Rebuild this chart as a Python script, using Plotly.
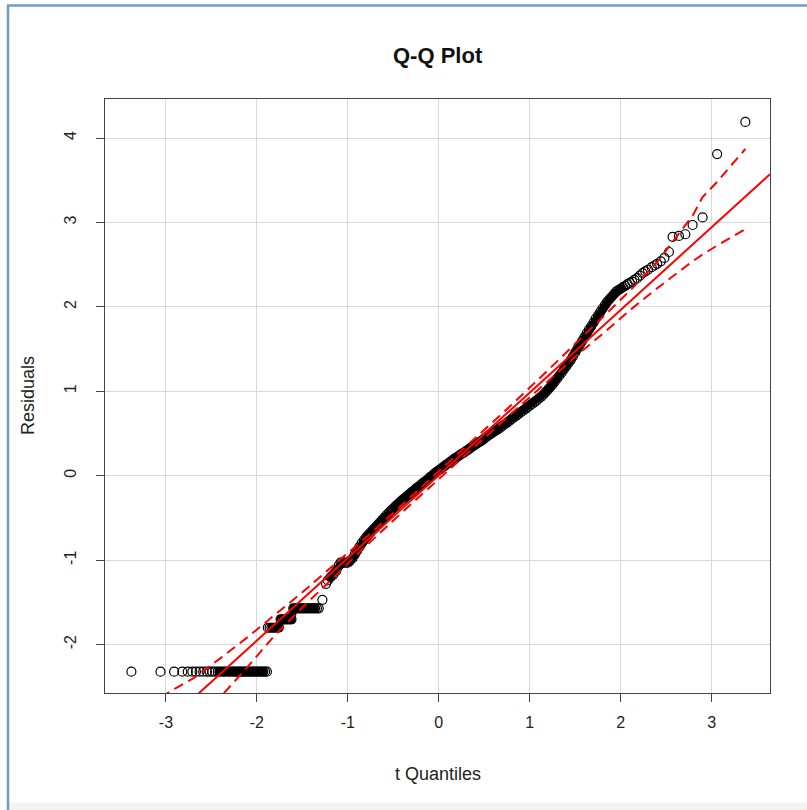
import plotly.graph_objects as go

# ---------------- data ----------------
# theoretical t quantiles (x) and sorted residuals (y)
resid_x = [
    -3.38, -3.06, -2.91, -2.82, -2.76, -2.71, -2.67, -2.63, -2.59, -2.55,
    -2.52, -2.49, -2.46, -2.43, -2.40, -2.37, -2.35, -2.32, -2.30, -2.27,
    -2.25, -2.23, -2.21, -2.19, -2.17, -2.15, -2.13, -2.11, -2.09, -2.07,
    -2.05, -2.03, -2.01, -1.99, -1.97, -1.95, -1.93, -1.91, -1.89,
    -1.88, -1.86, -1.84, -1.82, -1.80, -1.78, -1.76,
    -1.74, -1.72, -1.70, -1.68, -1.66, -1.64, -1.62,
    -1.60, -1.58, -1.56, -1.54, -1.52, -1.50, -1.48, -1.46, -1.44, -1.42,
    -1.40, -1.38, -1.36, -1.34, -1.32,
    -1.28, -1.24, -1.22, -1.19, -1.16, -1.13, -1.10, -1.08, -1.06, -1.04,
    -1.02, -1.00, -0.98,
    -0.950, -0.925, -0.900, -0.875, -0.850, -0.825, -0.800, -0.775,
    -0.750, -0.725, -0.700, -0.675, -0.650, -0.625, -0.600, -0.575,
    -0.550, -0.525, -0.500, -0.475, -0.450, -0.425, -0.400, -0.375,
    -0.350, -0.325, -0.300, -0.275, -0.250, -0.225, -0.200, -0.175,
    -0.150, -0.125, -0.100, -0.075, -0.050, -0.025, 0.000, 0.025,
    0.050, 0.075, 0.100, 0.125, 0.150, 0.175, 0.200, 0.225,
    0.250, 0.275, 0.300, 0.325, 0.350, 0.375, 0.400, 0.425,
    0.450, 0.475, 0.500, 0.525, 0.550, 0.575, 0.600, 0.625,
    0.650, 0.675, 0.700, 0.725, 0.750, 0.775, 0.800, 0.825,
    0.850, 0.875, 0.900, 0.925, 0.950, 0.975, 1.000, 1.025,
    1.050, 1.075, 1.100, 1.125, 1.150, 1.175, 1.200, 1.225,
    1.250, 1.275, 1.300, 1.325, 1.350, 1.375, 1.400, 1.425,
    1.450, 1.475, 1.500, 1.525, 1.550, 1.575, 1.600, 1.625,
    1.650, 1.675, 1.700, 1.725, 1.750, 1.775, 1.800, 1.825,
    1.850, 1.875, 1.900, 1.925, 1.950, 1.975, 2.000, 2.025,
    2.050, 2.075, 2.100, 2.125,
    2.15, 2.18, 2.21, 2.24, 2.27, 2.30, 2.34, 2.37, 2.40, 2.44,
    2.48, 2.53, 2.57, 2.64, 2.71, 2.79, 2.90, 3.06, 3.37,
]
resid_y = [
    -2.32, -2.32, -2.32, -2.32, -2.32, -2.32, -2.32, -2.32, -2.32, -2.32,
    -2.32, -2.32, -2.32, -2.32, -2.32, -2.32, -2.32, -2.32, -2.32, -2.32,
    -2.32, -2.32, -2.32, -2.32, -2.32, -2.32, -2.32, -2.32, -2.32, -2.32,
    -2.32, -2.32, -2.32, -2.32, -2.32, -2.32, -2.32, -2.32, -2.32,
    -1.80, -1.80, -1.80, -1.80, -1.80, -1.80, -1.80,
    -1.70, -1.70, -1.70, -1.70, -1.70, -1.70, -1.70,
    -1.57, -1.57, -1.57, -1.57, -1.57, -1.57, -1.57, -1.57, -1.57, -1.57,
    -1.57, -1.57, -1.57, -1.57, -1.57,
    -1.47, -1.28, -1.24, -1.20, -1.17, -1.13, -1.06, -1.03, -1.03, -1.03,
    -1.03, -1.03, -1.01,
    -0.98, -0.935, -0.89, -0.845, -0.80, -0.765, -0.73, -0.70,
    -0.67, -0.64, -0.615, -0.585, -0.555, -0.525, -0.495, -0.465,
    -0.44, -0.41, -0.385, -0.36, -0.335, -0.31, -0.285, -0.265,
    -0.24, -0.22, -0.195, -0.175, -0.15, -0.13, -0.11, -0.085,
    -0.065, -0.045, -0.02, 0.00, 0.025, 0.045, 0.065, 0.085,
    0.105, 0.125, 0.145, 0.165, 0.185, 0.205, 0.22, 0.24,
    0.26, 0.275, 0.295, 0.31, 0.33, 0.35, 0.365, 0.385,
    0.40, 0.42, 0.44, 0.46, 0.48, 0.50, 0.515, 0.535,
    0.55, 0.57, 0.59, 0.61, 0.63, 0.65, 0.67, 0.69,
    0.71, 0.73, 0.75, 0.77, 0.79, 0.81, 0.83, 0.85,
    0.87, 0.89, 0.915, 0.935, 0.96, 0.99, 1.02, 1.05,
    1.08, 1.115, 1.15, 1.185, 1.22, 1.26, 1.295, 1.335,
    1.37, 1.415, 1.46, 1.505, 1.55, 1.595, 1.64, 1.685,
    1.73, 1.77, 1.815, 1.86, 1.90, 1.94, 1.98, 2.02,
    2.06, 2.09, 2.12, 2.15, 2.18, 2.20, 2.215, 2.235,
    2.25, 2.27, 2.285, 2.30,
    2.32, 2.34, 2.37, 2.40, 2.42, 2.44, 2.47, 2.49, 2.51, 2.54,
    2.58, 2.65, 2.83, 2.84, 2.86, 2.97, 3.06, 3.81, 4.19,
]

# reference line (intercept / slope)
line_intercept = 0.007
line_slope = 0.979

# pointwise confidence envelope
env_x = [-3.37, -3.05, -2.90, -2.70, -2.40, -2.10, -1.80, -1.50, -1.20, -0.80,
         -0.40, 0.00, 0.40, 0.80, 1.20, 1.50, 1.80, 2.10, 2.40, 2.64,
         2.79, 2.90, 3.05, 3.37]
env_upper = [-2.80, -2.62, -2.52, -2.40, -2.16, -1.91, -1.645, -1.38, -1.10, -0.73,
             -0.34, 0.05, 0.44, 0.84, 1.25, 1.56, 1.88, 2.19, 2.53, 2.86,
             3.08, 3.30, 3.47, 3.87]
env_lower = [-3.89, -3.46, -3.25, -2.99, -2.62, -2.26, -1.885, -1.56, -1.25, -0.83,
             -0.43, -0.04, 0.355, 0.74, 1.12, 1.41, 1.68, 1.96, 2.22, 2.42,
             2.54, 2.62, 2.72, 2.92]

x_ticks = [-3, -2, -1, 0, 1, 2, 3]
y_ticks = [-2, -1, 0, 1, 2, 3, 4]

title_text = "Q-Q Plot"
x_title = "t Quantiles"
y_title = "Residuals"

# ---------------- layout geometry ----------------
W, H = 807, 810
L, R, T, B = 105, 37, 99, 116.5
PW, PH = W - L - R, H - T - B
x_range = [-3.67, 3.641]
y_range = [-2.573, 4.462]

RED = "#ff0000"
FONT = "Liberation Sans, Arial, sans-serif"
TXT = "#222222"


def px_x(p):
    return (p - L) / PW


def px_y(p):
    return (H - B - p) / PH


fig = go.Figure()

# where the circles overlap heavily the R plot shows a solid black band:
# draw a thick black stroke through those runs of points under the circles
dense_runs = [(-2.47, -1.885), (-1.885, -1.31), (-1.23, 2.06)]
for lo, hi in dense_runs:
    sx = [x for x, y in zip(resid_x, resid_y) if lo <= x <= hi]
    sy = [y for x, y in zip(resid_x, resid_y) if lo <= x <= hi]
    fig.add_trace(go.Scatter(
        x=sx, y=sy, mode="lines",
        line=dict(color="black", width=8),
        showlegend=False, hoverinfo="skip",
    ))

fig.add_trace(go.Scatter(
    x=resid_x, y=resid_y, mode="markers",
    marker=dict(symbol="circle-open", size=9, color="black",
                line=dict(width=1.2, color="black")),
    showlegend=False, hoverinfo="skip",
))

line_x = [x_range[0], x_range[1]]
line_y = [line_intercept + line_slope * v for v in line_x]
fig.add_trace(go.Scatter(
    x=line_x, y=line_y, mode="lines",
    line=dict(color=RED, width=2), showlegend=False, hoverinfo="skip",
))
for env in (env_upper, env_lower):
    fig.add_trace(go.Scatter(
        x=env_x, y=env, mode="lines",
        line=dict(color=RED, width=2, dash="10px,6px"),
        showlegend=False, hoverinfo="skip",
    ))

axis_common = dict(
    showgrid=True, gridcolor="#d9d9d9", gridwidth=1,
    zeroline=False, showline=True, linecolor="#444444", linewidth=1,
    mirror=True, ticks="outside", ticklen=8, tickcolor="#444444",
    tickfont=dict(family=FONT, size=16, color=TXT),
)

fig.update_xaxes(range=x_range, tickvals=x_ticks, ticktext=[str(v) for v in x_ticks],
                 ticklabelstandoff=7, **axis_common)
fig.update_yaxes(range=y_range, tickvals=y_ticks, ticktext=[str(v) for v in y_ticks],
                 tickangle=-90, ticklabelstandoff=14, **axis_common)

annotations = [
    dict(text="<b>" + title_text + "</b>", x=0.5, y=1, xref="paper", yref="paper",
         yanchor="middle", xanchor="center", yshift=44, showarrow=False,
         font=dict(family=FONT, size=22, color="#111111")),
    dict(text=x_title, x=0.5, y=0, xref="paper", yref="paper",
         yanchor="middle", xanchor="center", yshift=-81, showarrow=False,
         font=dict(family=FONT, size=18, color=TXT)),
    dict(text=y_title, x=0, y=0.5, xref="paper", yref="paper",
         yanchor="middle", xanchor="center", xshift=-77, textangle=-90,
         showarrow=False, font=dict(family=FONT, size=18, color=TXT)),
]

frame_blue = "#7398cc"
shapes = [
    dict(type="rect", xref="paper", yref="paper",
         x0=px_x(8), x1=px_x(W + 5), y0=px_y(803), y1=px_y(H + 5),
         fillcolor="#f3f3ee", line=dict(width=0), layer="below"),
    dict(type="line", xref="paper", yref="paper",
         x0=px_x(7), x1=px_x(W + 5), y0=px_y(5.5), y1=px_y(5.5),
         line=dict(color=frame_blue, width=2.5)),
    dict(type="line", xref="paper", yref="paper",
         x0=px_x(8), x1=px_x(8), y0=px_y(5), y1=px_y(H + 5),
         line=dict(color=frame_blue, width=2.5)),
]

fig.update_layout(
    width=W, height=H,
    margin=dict(l=L, r=R, t=T, b=B, pad=0),
    paper_bgcolor="white", plot_bgcolor="white",
    annotations=annotations, shapes=shapes,
    showlegend=False,
)

fig.write_html("out.html")
